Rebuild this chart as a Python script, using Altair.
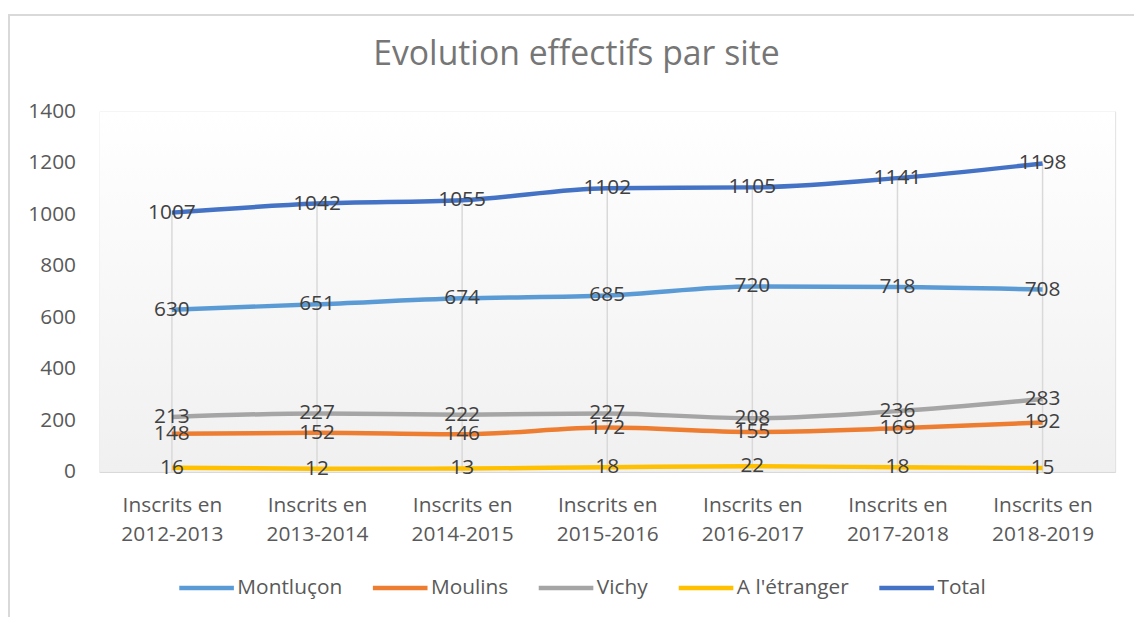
import altair as alt
import pandas as pd

categories = ["Inscrits en 2012-2013", "Inscrits en 2013-2014", "Inscrits en 2014-2015",
              "Inscrits en 2015-2016", "Inscrits en 2016-2017", "Inscrits en 2017-2018",
              "Inscrits en 2018-2019"]
series = ["Montluçon", "Moulins", "Vichy", "A l'étranger", "Total"]
montlucon = [630, 651, 674, 685, 720, 718, 708]
moulins = [148, 152, 146, 172, 155, 169, 192]
vichy = [213, 227, 222, 227, 208, 236, 283]
etranger = [16, 12, 13, 18, 22, 18, 15]
total = [1007, 1042, 1055, 1102, 1105, 1141, 1198]
colors = ["#5B9BD5", "#ED7D31", "#A5A5A5", "#FFC000", "#4472C4"]
y_ticks = [0, 200, 400, 600, 800, 1000, 1200, 1400]

values = [montlucon, moulins, vichy, etranger, total]
rows = []
for s, vals in zip(series, values):
    for i, (c, v) in enumerate(zip(categories, vals)):
        rows.append({"cat": c, "serie": s, "value": v, "order": series.index(s)})
df = pd.DataFrame(rows)
df_total = pd.DataFrame({"cat": categories, "value": total})

FONT = "Open Sans"
W, H = 1023, 363

x_enc = alt.X("cat:N", sort=categories,
              scale=alt.Scale(type="point", padding=0.5),
              axis=alt.Axis(title=None, labelAngle=0, ticks=False, grid=False,
                            domainColor="#d9d9d9", domainWidth=1.5,
                            labelExpr="[slice(datum.label,0,11), slice(datum.label,12)]",
                            labelFontSize=21, labelColor="#595959", labelFont=FONT,
                            labelPadding=23, labelLineHeight=29))
y_enc = alt.Y("value:Q", scale=alt.Scale(domain=[0, 1400], nice=False),
              axis=alt.Axis(title=None, values=y_ticks, grid=False, domain=False, ticks=False,
                            format="d",
                            labelPadding=24, labelFontSize=21, labelColor="#595959",
                            labelFont=FONT))

frame = alt.Chart(pd.DataFrame({"a": [0]})).mark_rect(
    fillOpacity=0, stroke="#d9d9d9", strokeWidth=2
).encode(x=alt.value(-91), x2=alt.value(1300), y=alt.value(-97), y2=alt.value(800))

bg = alt.Chart(pd.DataFrame({"a": [0]})).mark_rect(
    fill=alt.LinearGradient(gradient="linear",
                            stops=[alt.GradientStop(color="#ffffff", offset=0),
                                   alt.GradientStop(color="#f0f0f0", offset=1)],
                            x1=0, x2=0, y1=0, y2=1)
).encode(x=alt.value(0), x2=alt.value(W), y=alt.value(0), y2=alt.value(H))

drop = alt.Chart(df_total).mark_rule(color="#d9d9d9", strokeWidth=1.5).encode(
    x=x_enc, y=y_enc, y2=alt.value(H))

lines = alt.Chart(df).mark_line(strokeWidth=4.5, interpolate="monotone").encode(
    x=x_enc, y=y_enc,
    color=alt.Color("serie:N", sort=series,
                    scale=alt.Scale(domain=series, range=colors),
                    legend=alt.Legend(title=None, orient="none", direction="horizontal",
                                      legendX=78, legendY=450,
                                      symbolType="stroke", symbolSize=3025,
                                      symbolStrokeWidth=4.5, labelFontSize=21,
                                      labelColor="#595959", labelFont=FONT,
                                      columnPadding=21, labelOffset=1)),
    detail="serie:N",
    order=alt.Order("order:Q"))

labels = alt.Chart(df).mark_text(fontSize=21, color="#404040", font=FONT,
                                 align="center", baseline="middle").encode(
    x=x_enc, y=y_enc, text="value:Q")

chart = alt.layer(frame, bg, drop, lines, labels).properties(
    width=W, height=H,
    title=alt.TitleParams("Evolution effectifs par site", fontSize=34, color="#767676",
                          font=FONT, fontWeight="normal", anchor="middle", dx=-31,
                          baseline="alphabetic", offset=-85),
    padding={"left": 92, "top": 102, "right": 19, "bottom": 144},
    autosize=alt.AutoSizeParams(type="none"),
).configure_view(stroke=None).configure(font=FONT)

chart.save("out.html", embed_options={"renderer": "svg", "actions": False})
